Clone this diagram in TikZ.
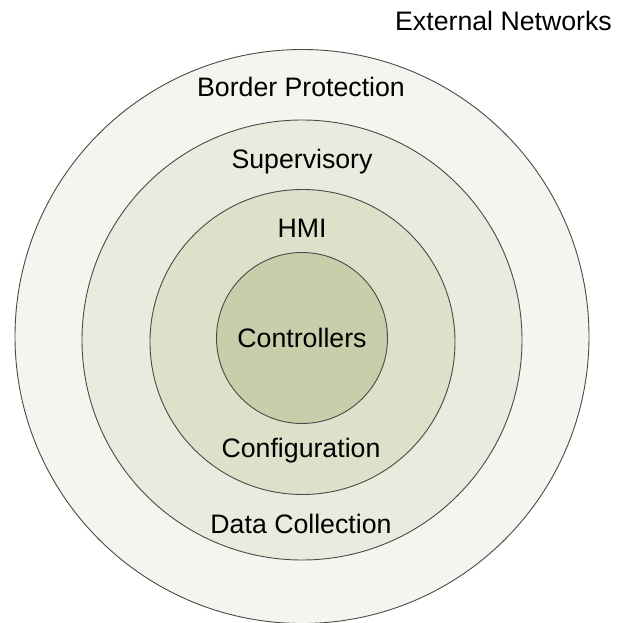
\documentclass[tikz,border=0pt]{standalone}
\usepackage{fontspec}
\setmainfont{Liberation Sans}
\definecolor{ringA}{HTML}{F3F5EF}
\definecolor{ringB}{HTML}{E8EBDD}
\definecolor{ringC}{HTML}{DCE1C9}
\definecolor{ringD}{HTML}{C6CFA9}
\definecolor{edge}{HTML}{4A4A4A}
\begin{document}
\begin{tikzpicture}[x=1pt,y=-1pt,
  ring/.style={circle,draw=edge,line width=0.9pt,inner sep=0pt},
  lbl/.style={anchor=base,inner sep=0pt,font=\fontsize{26.7}{32}\selectfont,text=black}]
\useasboundingbox[fill=white] (0,0) rectangle (627,623);
\node[ring,fill=ringA,minimum size=574pt] (border) at (302,336.5) {};
\node[ring,fill=ringB,minimum size=440pt] (super) at (302,340) {};
\node[ring,fill=ringC,minimum size=305pt] (hmi) at (302.5,342) {};
\node[ring,fill=ringD,minimum size=171pt] (ctrl) at (302,338) {};
\node[lbl] (ext) at (503.5,31) {External Networks};
\node[lbl] (bp) at (301,97) {Border Protection};
\node[lbl] (sv) at (302,169) {Supervisory};
\node[lbl] (hm) at (302,237) {HMI};
\node[lbl] (ct) at (302,347) {Controllers};
\node[lbl] (cf) at (301,457) {Configuration};
\node[lbl] (dc) at (301,533) {Data Collection};
\end{tikzpicture}
\end{document}
